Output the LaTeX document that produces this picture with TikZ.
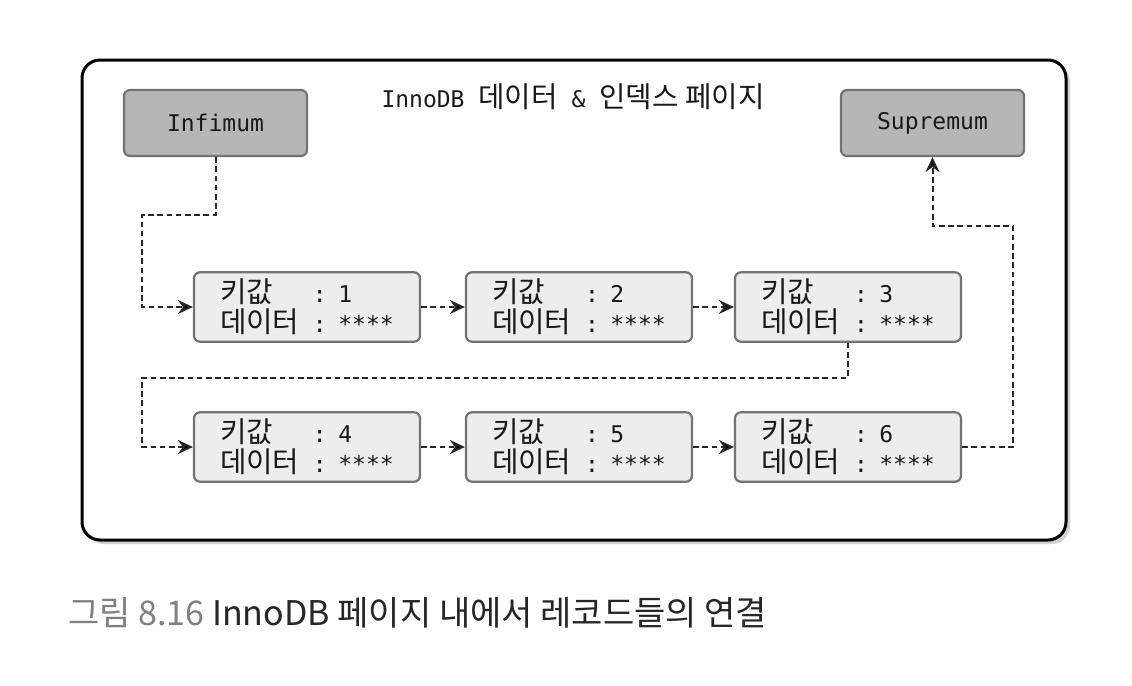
\documentclass[tikz,border=0pt]{standalone}
\usepackage{fontspec}
\setmonofont{DejaVu Sans Mono}
\newfontfamily\kr{Noto Sans CJK KR}
\newfontfamily\krmono[Scale=1.25]{Noto Sans CJK KR}
\usetikzlibrary{arrows.meta,shadows}
\definecolor{capgray}{HTML}{808080}
\definecolor{hdfill}{HTML}{B6B6B6}
\definecolor{recfill}{HTML}{EDEDED}
\definecolor{boxline}{HTML}{737373}
\newcommand{\recbody}[1]{\makebox[46.5pt][l]{\krmono 키값}: #1\\\makebox[46.5pt][l]{\krmono 데이터}: ****}
\begin{document}
\begin{tikzpicture}[x=0.5pt, y=-0.5pt,
    frame/.style={line width=1.5pt, rounded corners=9pt,
      drop shadow={shadow xshift=2pt, shadow yshift=-2pt, opacity=0.35}},
    head/.style={draw=boxline, fill=hdfill, line width=1.1pt, rounded corners=3pt,
      minimum width=91.5pt, minimum height=33pt, font=\ttfamily\fontsize{11.5}{15}\selectfont, text=black!90},
    rec/.style={draw=boxline, fill=recfill, line width=1.1pt, rounded corners=3pt,
      text width=87pt, inner xsep=13pt, minimum height=33pt, align=left,
      font=\ttfamily\fontsize{11.5}{15}\selectfont, text=black!90},
    link/.style={draw=black!85, line width=1pt, dash pattern=on 2.8pt off 1.8pt,
      -{Stealth[length=7.5pt, width=7pt, inset=2.5pt, fill=black]}}]
  \useasboundingbox (0,0) rectangle (1132,686);
  \fill[white] (0,0) rectangle (1132,686);

  \draw[frame, fill=white] (82,60) rectangle (1066,540);
  \node[font=\ttfamily\fontsize{11.5}{15}\selectfont, text=black!90] (title) at (573,97)
    {InnoDB {\krmono 데이터} \& {\krmono 인덱스 페이지}};

  \node[head] (inf) at (215.5,123) {Infimum};
  \node[head] (sup) at (932.5,123) {Supremum};

  \foreach \n/\px/\py in {1/307/307, 2/579/307, 3/848/307, 4/307/447, 5/579/447, 6/848/447}
    \node[rec] (r\n) at (\px,\py) {\recbody{\n}};

  \draw[link] (inf.south) |- (142,215) |- (r1.west);
  \draw[link] (r1) -- (r2);
  \draw[link] (r2) -- (r3);
  \draw[link] (r3.south) |- (142,378) |- (r4.west);
  \draw[link] (r4) -- (r5);
  \draw[link] (r5) -- (r6);
  \draw[link] (r6.east) -| (1013,226) -| (sup.south);

  \node[anchor=base west, inner sep=0pt, font=\kr\fontsize{17}{21}\selectfont, text=black!85] (cap) at (68,625)
    {\textcolor{capgray}{그림 8.16} InnoDB 페이지 내에서 레코드들의 연결};
\end{tikzpicture}
\end{document}
